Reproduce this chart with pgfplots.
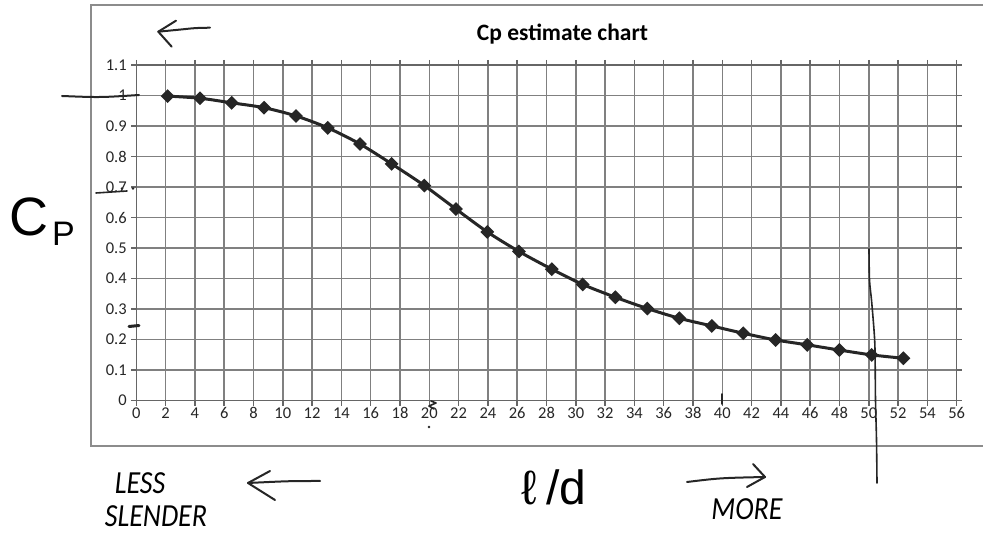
\documentclass[border=0pt]{standalone}
\usepackage{fontspec}
\setmainfont{Carlito}[Numbers=Lining]
\newfontfamily\arialfont{Liberation Sans}
\usepackage{pgfplots}
\usepackage{pgfplotstable}
\pgfplotsset{compat=1.18}

% Cp against l/d
\pgfplotstableread{
ld    cp
2.14  0.998
4.35  0.991
6.51  0.976
8.72  0.960
10.90 0.933
13.07 0.894
15.27 0.841
17.43 0.776
19.66 0.705
21.82 0.628
23.96 0.553
26.12 0.489
28.36 0.431
30.47 0.381
32.70 0.339
34.88 0.302
37.07 0.270
39.28 0.245
41.43 0.221
43.64 0.199
45.80 0.183
47.99 0.166
50.20 0.150
52.36 0.139
}\cpdata

\begin{document}
\begin{tikzpicture}
\begin{axis}[
    at={(136.3pt,134.3pt)}, anchor=south west,
    width=820.4pt, height=335.7pt, scale only axis,
    xmin=0, xmax=56, ymin=0, ymax=1.1,
    xtick distance=2, ytick distance=0.1,
    grid=major,
    major grid style={black!50, line width=1.5pt},
    axis line style={black!60, line width=1.5pt},
    tick style={black!60, line width=1.5pt},
    tick align=outside, major tick length=5pt,
    tick label style={font=\fontsize{16.5}{17}\selectfont, text=black!85},
    /pgf/number format/assume math mode=true,
    yticklabel style={/pgf/number format/fixed, xshift=-1pt},
    xticklabel style={text height=10.5pt, text depth=0pt, yshift=1pt},
]
\addplot[black!85, line width=3pt, smooth,
         mark=square*, mark size=3.4pt, mark options={rotate=45, solid}]
    table[x=ld, y=cp] {\cpdata};
\end{axis}

\begin{scope}[shift={(0pt,535pt)}, x=1pt, y=-1pt]
  \tikzset{hand/.style={line width=2pt, black!85, line cap=round, line join=round}}
  % chart frame
  \draw[black!45, line width=1.5pt] (983,5) -- (91,5) -- (91,446) -- (983,446);
  % title
  \node[font=\bfseries\fontsize{23.5}{24}\selectfont, anchor=base] at (562.5,41) {Cp estimate chart};
  % axis names
  \node[font=\arialfont\fontsize{54}{54}\selectfont, anchor=base west, inner sep=0pt] at (9,236) {C};
  \node[font=\arialfont\fontsize{34}{34}\selectfont, anchor=base west, inner sep=0pt] at (52,246) {P};
  \node[font=\arialfont\fontsize{48}{48}\selectfont, anchor=base west, inner sep=0pt] at (521,505) {ℓ};
  \node[font=\arialfont\fontsize{48}{48}\selectfont, anchor=base west, inner sep=0pt] at (546,505) {/d};
  % hand marks
  \draw[hand] (210,27.7) .. controls (195,28) .. (183,29.3) -- (158.3,31.7);
  \draw[hand] (176,20.7) -- (158.3,31.7) -- (171.7,46.7);
  \draw[hand] (62,96) .. controls (100,97.5) .. (139,95);
  \draw[hand, line width=1.6pt] (96,193) -- (127,191);
  \fill[black!85] (122,188.5) circle (1.3) (133,188.5) circle (1.3);
  \draw[hand, line width=3pt] (129,326.5) -- (139,325.5);
  \draw[hand, line width=1.6pt] (431,401) -- (436,403) -- (429,406) -- (434,409);
  \fill[black!85] (429,427) circle (1.3);
  \draw[hand, line width=1.6pt] (722,394) -- (722,404);
  \draw[hand, line width=1.6pt] plot[smooth] coordinates {(869,249) (869.5,280) (871.5,300) (874,330) (875,350) (875.5,400) (876.5,440) (877,483)};
  \draw[hand] (320,481) .. controls (290,481) .. (248,483);
  \draw[hand] (270,471) -- (248,483) -- (275,500);
  \draw[hand] (687,482) .. controls (720,478) .. (765,477);
  \draw[hand] (753,464) -- (765,477) -- (747,487);
  \node[font=\fontsize{28}{28}\selectfont\itshape, anchor=base, inner sep=0pt, yscale=1.15] at (140,494) {LESS};
  \node[font=\fontsize{28}{28}\selectfont\itshape, anchor=base, inner sep=0pt, yscale=1.15] at (156,527) {SLENDER};
  \node[font=\fontsize{28}{28}\selectfont\itshape, anchor=base, inner sep=0pt, yscale=1.15] at (747,520) {MORE};
\end{scope}
\pgfresetboundingbox
\path (0pt,0pt) rectangle (983pt,535pt);
\end{tikzpicture}
\end{document}
